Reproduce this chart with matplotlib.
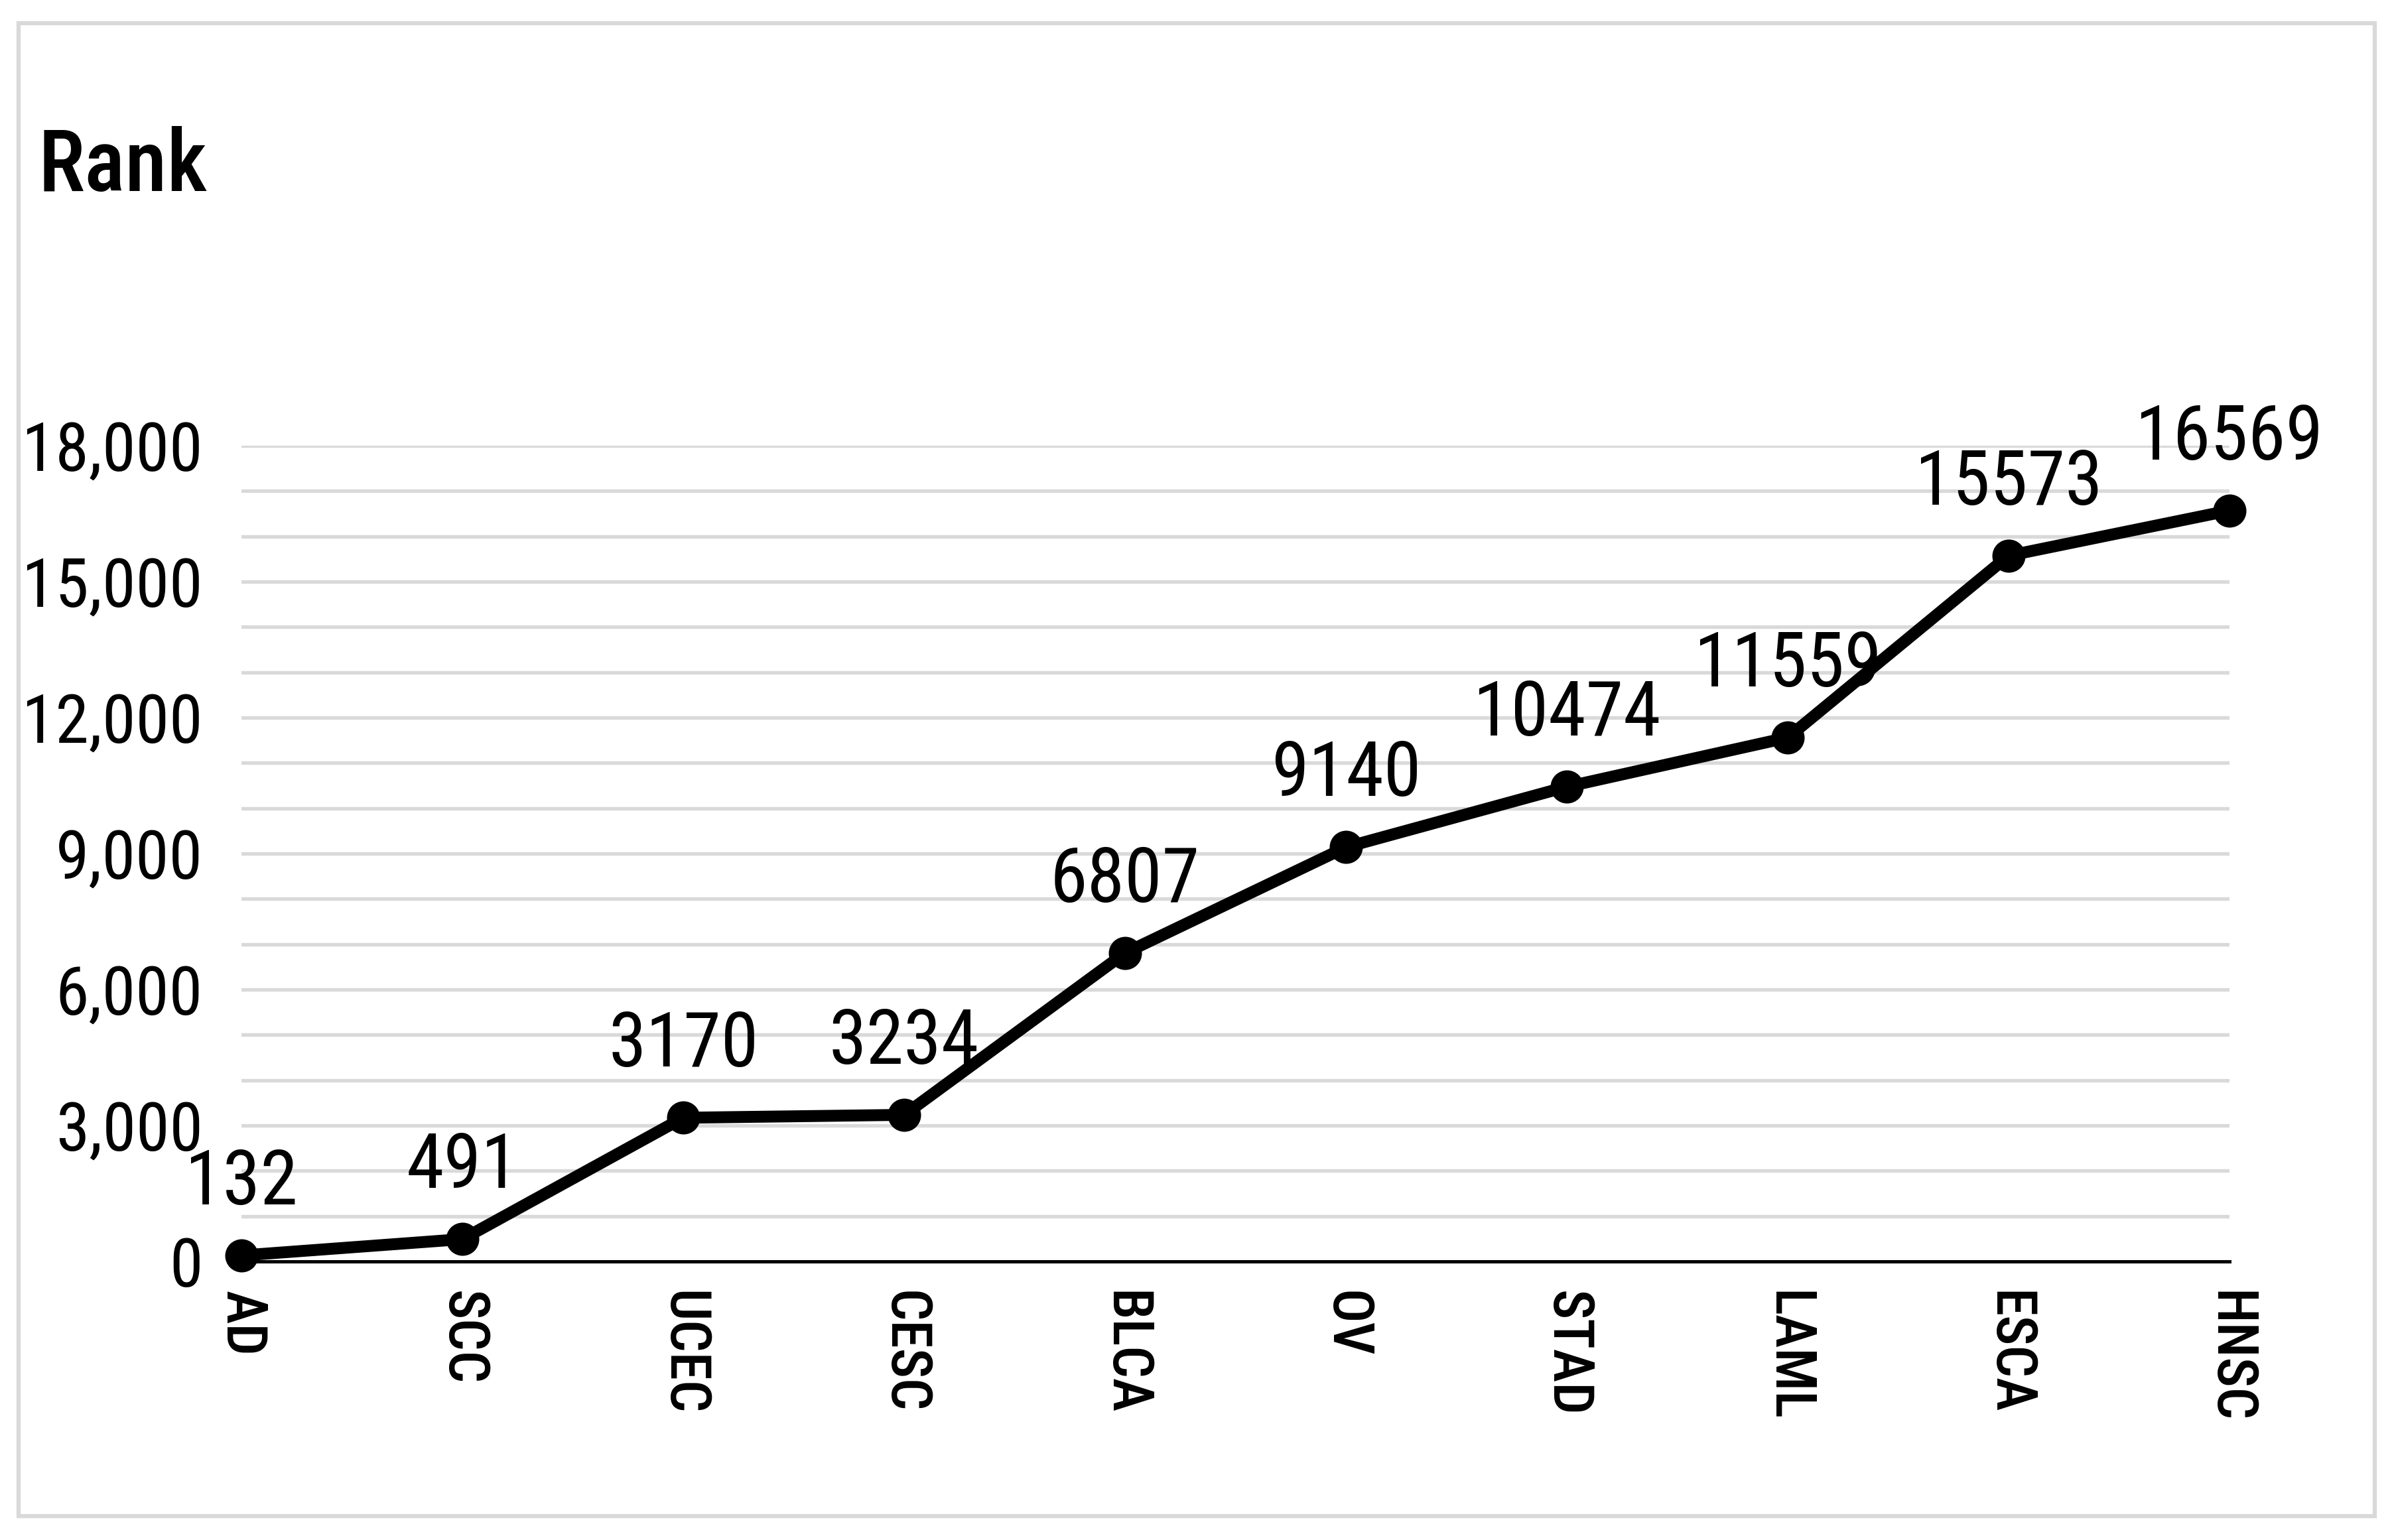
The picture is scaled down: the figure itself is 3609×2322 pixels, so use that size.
import matplotlib
matplotlib.use("Agg")
import matplotlib.pyplot as plt
from matplotlib.patches import Rectangle
from matplotlib.ticker import MultipleLocator, FuncFormatter

# data
cancer_types = ["AD", "SCC", "UCEC", "CESC", "BLCA", "OV", "STAD", "LAML", "ESCA", "HNSC"]
ranks = [132, 491, 3170, 3234, 6807, 9140, 10474, 11559, 15573, 16569]

plt.rcParams["font.family"] = ["Roboto Condensed", "IBM Plex Sans Condensed",
                               "Liberation Sans", "DejaVu Sans"]

fig = plt.figure(figsize=(3609 / 300, 2322 / 300), dpi=300)
ax = fig.add_axes([0.1009, 0.1809, 0.8304, 0.5297])

# light frame around the whole chart
fig.patches.append(Rectangle((0.0077, 0.0155), 0.9843, 0.9695, transform=fig.transFigure,
                             fill=False, edgecolor="#d9d9d9", linewidth=1.5))

x = list(range(len(cancer_types)))
ax.plot(x, ranks, color="black", linewidth=4.3, marker="o", markersize=11,
        solid_joinstyle="round", clip_on=False, zorder=3)

for xi, v in zip(x, ranks):
    ax.annotate(str(v), (xi, v), xytext=(0, 18.5), textcoords="offset points",
                ha="center", va="baseline", fontsize=27.5,
                color="black", zorder=4)

ax.set_xlim(0, len(cancer_types) - 1)
ax.set_ylim(0, 18000)
ax.yaxis.set_major_locator(MultipleLocator(3000))
ax.yaxis.set_minor_locator(MultipleLocator(1000))
ax.yaxis.set_major_formatter(FuncFormatter(lambda v, p: f"{int(v):,}"))
ax.grid(True, which="both", axis="y", color="#d9d9d9", linewidth=1.3)
ax.set_axisbelow(True)

ax.set_xticks(x)
ax.set_xticklabels(cancer_types, rotation=-90, fontsize=20.5, fontweight=500)
ax.tick_params(axis="x", length=0, pad=10.5)
ax.tick_params(axis="y", which="both", length=0, pad=14, labelsize=24.5)

for side in ("top", "right", "left"):
    ax.spines[side].set_visible(False)
ax.spines["bottom"].set_color("black")
ax.spines["bottom"].set_linewidth(1.2)
ax.spines["bottom"].set_zorder(2)

fig.text(0.016, 0.876, "Rank", fontsize=31, fontweight=500, ha="left", va="baseline")

fig.savefig("out.png", dpi=300, facecolor="white")
